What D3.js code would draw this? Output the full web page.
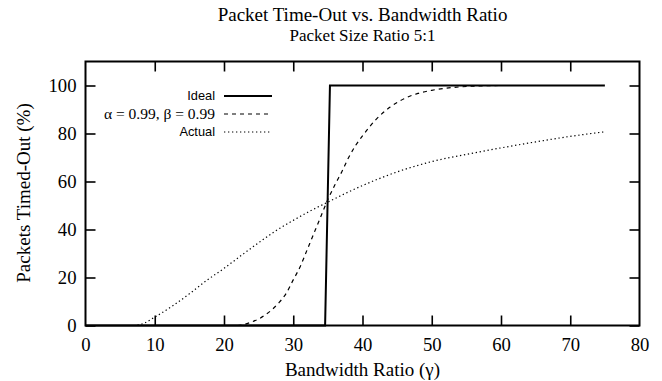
<!DOCTYPE html>
<html>
<head>
<meta charset="utf-8">
<script src="https://cdn.jsdelivr.net/npm/d3@7"></script>
<style>
  body { margin: 0; background: #fff; }
  svg { display: block; }
</style>
</head>
<body>
<div id="chart"></div>
<script>
// values
var xTicks = [0, 10, 20, 30, 40, 50, 60, 70, 80];
var yTicks = [0, 20, 40, 60, 80, 100];

var idealX = [0, 34.6, 35.3, 75];
var idealY = [0, 0, 100, 100];

var modelX = [0, 22, 24, 25, 26, 27, 28, 29, 30, 31, 32, 33, 34, 35, 36, 37, 38, 39, 40, 42, 44, 46, 48, 50, 54, 60, 75];
var modelY = [0, 0, 1.5, 2.7, 4.5, 6.8, 9.7, 13.5, 19, 24.5, 31.5, 38.5, 45.5, 52.5, 58.5, 64, 70, 75, 79, 86, 91, 94.5, 96.7, 98, 99.4, 100, 100];

var actualX = [0, 5, 7, 8.5, 10, 12.5, 15, 17.5, 20, 22.5, 25, 27.5, 30, 32.5, 35, 37.5, 40, 42.5, 45, 47.5, 50, 55, 60, 65, 70, 75];
var actualY = [0, 0, 0, 1, 3.5, 8, 13.2, 18.8, 23.8, 29.2, 34.5, 39.5, 43.8, 47.8, 51.4, 55, 58.3, 61.3, 64, 66.3, 68.3, 71.3, 74, 76.5, 78.8, 80.7];

var seriesNames = ["Ideal", "α = 0.99, β = 0.99", "Actual"];

var width = 662, height = 381;
var plotLeft = 85.5, plotRight = 639.5, plotTop = 61.5, plotBottom = 325.5;

var svg = d3.select("#chart").append("svg")
  .attr("width", width)
  .attr("height", height);

var x = d3.scaleLinear().domain([0, 80]).range([plotLeft, plotRight]);
var y = d3.scaleLinear().domain([0, 110]).range([plotBottom, plotTop]);

var serif = "'Liberation Serif', 'Times New Roman', serif";
var sans = "'Liberation Sans', Arial, sans-serif";

// titles
svg.append("text")
  .attr("x", 362.5).attr("y", 21)
  .attr("text-anchor", "middle")
  .attr("font-family", serif).attr("font-size", 19)
  .text("Packet Time-Out vs. Bandwidth Ratio");
svg.append("text")
  .attr("x", 362.5).attr("y", 40.5)
  .attr("text-anchor", "middle")
  .attr("font-family", serif).attr("font-size", 17)
  .text("Packet Size Ratio 5:1");

// axes, ticks pointing inward, mirrored
var tickLen = 10;
var xb = svg.append("g").attr("transform", "translate(0," + plotBottom + ")")
  .call(d3.axisBottom(x).tickValues(xTicks).tickSize(-tickLen).tickPadding(12));
var xt = svg.append("g").attr("transform", "translate(0," + plotTop + ")")
  .call(d3.axisTop(x).tickValues(xTicks).tickSize(-tickLen).tickFormat(""));
var yl = svg.append("g").attr("transform", "translate(" + plotLeft + ",0)")
  .call(d3.axisLeft(y).tickValues(yTicks).tickSize(-tickLen).tickPadding(9));
var yr = svg.append("g").attr("transform", "translate(" + plotRight + ",0)")
  .call(d3.axisRight(y).tickValues(yTicks).tickSize(-tickLen).tickFormat(""));

[xb, xt, yl, yr].forEach(function(g) {
  g.select(".domain").remove();
  g.selectAll(".tick line").attr("stroke", "#000").attr("stroke-width", 1.6);
  g.selectAll(".tick text")
    .attr("font-family", serif).attr("font-size", 18.7).attr("fill", "#000");
});
// first and last x ticks sit on the frame
xb.selectAll(".tick").filter(function(d) { return d == 0 || d == 80; }).select("line").remove();
xt.selectAll(".tick").filter(function(d) { return d == 0 || d == 80; }).select("line").remove();

// frame
svg.append("rect")
  .attr("x", plotLeft).attr("y", plotTop)
  .attr("width", plotRight - plotLeft).attr("height", plotBottom - plotTop)
  .attr("fill", "none").attr("stroke", "#000").attr("stroke-width", 2);

// axis labels
svg.append("text")
  .attr("x", 362.5).attr("y", 376)
  .attr("text-anchor", "middle")
  .attr("font-family", serif).attr("font-size", 19)
  .text("Bandwidth Ratio (γ)");
svg.append("text")
  .attr("transform", "translate(30,193) rotate(-90)")
  .attr("text-anchor", "middle")
  .attr("font-family", serif).attr("font-size", 19)
  .text("Packets Timed-Out (%)");

// series
var line = d3.line().x(function(d) { return x(d[0]); }).y(function(d) { return y(d[1]); });
var smooth = d3.line().curve(d3.curveMonotoneX)
  .x(function(d) { return x(d[0]); }).y(function(d) { return y(d[1]); });

var styles = [
  {width: 2, dash: null},
  {width: 1.2, dash: "4,4"},
  {width: 1.2, dash: "1.3,2.7"}
];

svg.append("path")
  .datum(d3.zip(actualX, actualY))
  .attr("d", smooth)
  .attr("fill", "none").attr("stroke", "#000")
  .attr("stroke-width", styles[2].width).attr("stroke-dasharray", styles[2].dash);
svg.append("path")
  .datum(d3.zip(modelX, modelY))
  .attr("d", smooth)
  .attr("fill", "none").attr("stroke", "#000")
  .attr("stroke-width", styles[1].width).attr("stroke-dasharray", styles[1].dash);
svg.append("path")
  .datum(d3.zip(idealX, idealY))
  .attr("d", line)
  .attr("fill", "none").attr("stroke", "#000")
  .attr("stroke-width", styles[0].width);

// legend
var legend = svg.append("g").attr("class", "legend");
seriesNames.forEach(function(name, i) {
  var ly = 96 + i * 18;
  legend.append("text")
    .attr("x", 215).attr("y", ly).attr("dy", "0.35em")
    .attr("text-anchor", "end")
    .attr("font-family", i == 1 ? serif : sans)
    .attr("font-size", i == 1 ? 15.5 : 12.8)
    .text(name);
  legend.append("line")
    .attr("x1", 224).attr("x2", 272)
    .attr("y1", ly).attr("y2", ly)
    .attr("stroke", "#000")
    .attr("stroke-width", styles[i].width)
    .attr("stroke-dasharray", styles[i].dash);
});
</script>
</body>
</html>
